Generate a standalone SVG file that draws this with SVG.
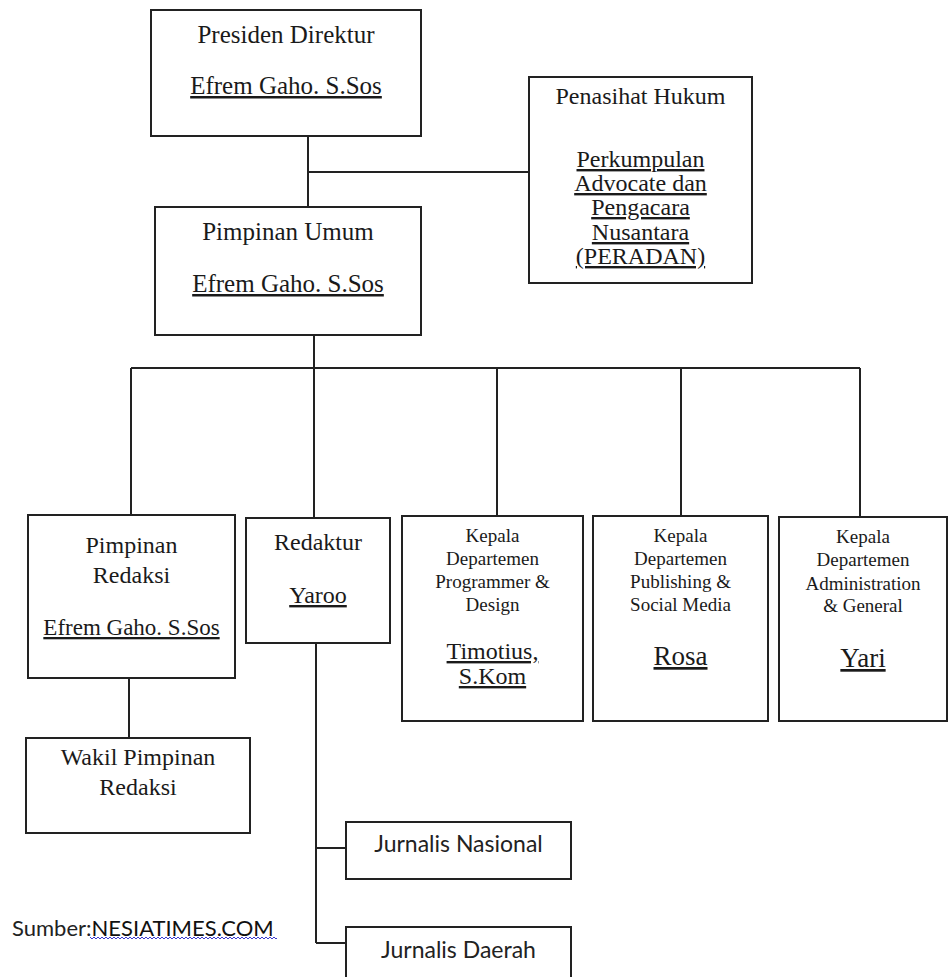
<svg xmlns="http://www.w3.org/2000/svg" width="948" height="977" viewBox="0 0 948 977">
<style>
.box{fill:#fff;stroke:#222;stroke-width:2}
.ln{fill:none;stroke:#222;stroke-width:2}
.t{font-family:'Liberation Serif','DejaVu Serif',serif;fill:#1a1a1a;text-anchor:middle}
.s{font-family:Lato,'Open Sans',sans-serif;fill:#222;text-anchor:middle}
.u{text-decoration:underline}
</style>
<defs>
<pattern id="wave" x="0" y="0" width="4" height="4" patternUnits="userSpaceOnUse">
<polyline points="0,3 2,1 4,3" fill="none" stroke="#3a3ad0" stroke-width="1"/>
</pattern>
</defs>
<rect width="948" height="977" fill="#fff"/>
<g id="connectors">
<path class="ln" d="M308 136V207M308 172H529"/>
<path class="ln" d="M314 335V368M131 368H860M131 368V515M314 368V518M497 368V516M681 368V516M860 368V517"/>
<path class="ln" d="M129 678V738"/>
<path class="ln" d="M316 643V943M316 848H346M316 943H346"/>
</g>
<g id="presiden-direktur">
<rect class="box" x="151" y="10" width="270" height="126"/>
<text class="t" font-family="Liberation Serif, DejaVu Serif, serif" x="286" y="43" font-size="25">Presiden Direktur</text>
<text class="t u" font-family="Liberation Serif, DejaVu Serif, serif" x="286" y="94" font-size="25">Efrem Gaho. S.Sos</text>
</g>
<g id="penasihat-hukum">
<rect class="box" x="529" y="77" width="223" height="206"/>
<text class="t" font-family="Liberation Serif, DejaVu Serif, serif" x="640.5" y="104" font-size="24">Penasihat Hukum</text>
<text class="t u" font-family="Liberation Serif, DejaVu Serif, serif" font-size="24"><tspan x="640.5" y="167">Perkumpulan</tspan><tspan x="640.5" y="191">Advocate dan</tspan><tspan x="640.5" y="215">Pengacara</tspan><tspan x="640.5" y="240">Nusantara</tspan><tspan x="640.5" y="264">(PERADAN)</tspan></text>
</g>
<g id="pimpinan-umum">
<rect class="box" x="155" y="207" width="266" height="128"/>
<text class="t" font-family="Liberation Serif, DejaVu Serif, serif" x="288" y="240" font-size="25">Pimpinan Umum</text>
<text class="t u" font-family="Liberation Serif, DejaVu Serif, serif" x="288" y="292" font-size="25">Efrem Gaho. S.Sos</text>
</g>
<g id="pimpinan-redaksi">
<rect class="box" x="28" y="515" width="207" height="163"/>
<text class="t" font-family="Liberation Serif, DejaVu Serif, serif" font-size="24"><tspan x="131.5" y="553">Pimpinan</tspan><tspan x="131.5" y="583">Redaksi</tspan></text>
<text class="t u" font-family="Liberation Serif, DejaVu Serif, serif" x="131.5" y="635" font-size="23">Efrem Gaho. S.Sos</text>
</g>
<g id="redaktur">
<rect class="box" x="246" y="518" width="144" height="125"/>
<text class="t" font-family="Liberation Serif, DejaVu Serif, serif" x="318" y="550" font-size="24">Redaktur</text>
<text class="t u" font-family="Liberation Serif, DejaVu Serif, serif" x="318" y="603" font-size="24">Yaroo</text>
</g>
<g id="kepala-programmer">
<rect class="box" x="402" y="516" width="181" height="205"/>
<text class="t" font-family="Liberation Serif, DejaVu Serif, serif" font-size="19"><tspan x="492.5" y="542">Kepala</tspan><tspan x="492.5" y="565">Departemen</tspan><tspan x="492.5" y="588">Programmer &amp;</tspan><tspan x="492.5" y="611">Design</tspan></text>
<text class="t u" font-family="Liberation Serif, DejaVu Serif, serif" font-size="24"><tspan x="492.5" y="659">Timotius,</tspan><tspan x="492.5" y="684">S.Kom</tspan></text>
</g>
<g id="kepala-publishing">
<rect class="box" x="593" y="516" width="175" height="205"/>
<text class="t" font-family="Liberation Serif, DejaVu Serif, serif" font-size="19"><tspan x="680.5" y="542">Kepala</tspan><tspan x="680.5" y="565">Departemen</tspan><tspan x="680.5" y="588">Publishing &amp;</tspan><tspan x="680.5" y="611">Social Media</tspan></text>
<text class="t u" font-family="Liberation Serif, DejaVu Serif, serif" x="680.5" y="665" font-size="27">Rosa</text>
</g>
<g id="kepala-administration">
<rect class="box" x="779" y="517" width="168" height="204"/>
<text class="t" font-family="Liberation Serif, DejaVu Serif, serif" font-size="19"><tspan x="863" y="543">Kepala</tspan><tspan x="863" y="566">Departemen</tspan><tspan x="863" y="590">Administration</tspan><tspan x="863" y="612">&amp; General</tspan></text>
<text class="t u" font-family="Liberation Serif, DejaVu Serif, serif" x="863" y="667" font-size="27">Yari</text>
</g>
<g id="wakil-pimpinan-redaksi">
<rect class="box" x="26" y="738" width="224" height="95"/>
<text class="t" font-family="Liberation Serif, DejaVu Serif, serif" font-size="24"><tspan x="138" y="765">Wakil Pimpinan</tspan><tspan x="138" y="795">Redaksi</tspan></text>
</g>
<g id="jurnalis-nasional">
<rect class="box" x="346" y="822" width="225" height="57"/>
<text class="s" x="458.5" y="852" font-size="23">Jurnalis Nasional</text>
</g>
<g id="jurnalis-daerah">
<rect class="box" x="346" y="927" width="225" height="60"/>
<text class="s" x="458.5" y="958" font-size="23">Jurnalis Daerah</text>
</g>
<g id="source">
<text x="12" y="936" font-family="Lato, Open Sans, sans-serif" font-size="22" fill="#222">Sumber:<tspan fill="#111">NESIATIMES.COM</tspan></text>
<rect x="90" y="937" width="187" height="4" fill="url(#wave)"/>
</g>
</svg>
